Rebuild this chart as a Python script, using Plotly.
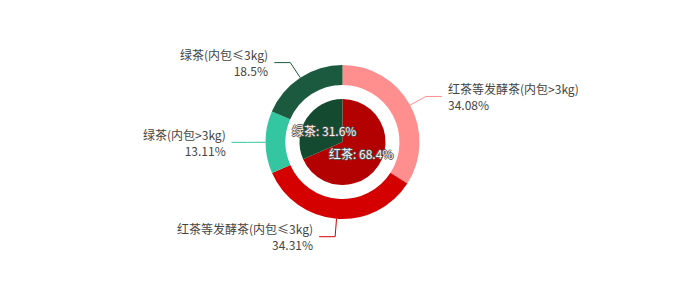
import math
import plotly.graph_objects as go

# ---- data ----
outer_labels = ["红茶等发酵茶(内包>3kg)", "红茶等发酵茶(内包≤3kg)", "绿茶(内包>3kg)", "绿茶(内包≤3kg)"]
outer_values = [34.08, 34.31, 13.11, 18.5]
outer_colors = ["#ff8f8f", "#d40000", "#33c6a0", "#1b5a3e"]

inner_labels = ["红茶", "绿茶"]
inner_values = [68.4, 31.6]
inner_colors = ["#b30000", "#144a30"]

W, H = 683, 285
CX, CY = 342.5, 142.0
R_OUT, R_HOLE, R_IN = 77.0, 57.0, 43.0
LEN1, LEN2, GAP = 18.0, 16.0, 5.0
TEXT_COLOR = "#444444"
FONT = "Noto Sans CJK SC, Noto Sans, sans-serif"


def px(x):
    return x / W


def py(y):
    return 1 - y / H


def mid_angles(values):
    tot = sum(values)
    out, acc = [], 0.0
    for v in values:
        out.append((acc + v / 2) / tot * 2 * math.pi)
        acc += v
    return out


fig = go.Figure()

fig.add_trace(go.Pie(
    labels=outer_labels, values=outer_values, sort=False, direction="clockwise",
    rotation=0, hole=R_HOLE / R_OUT, textinfo="none", hoverinfo="label+percent",
    marker=dict(colors=outer_colors, line=dict(width=0)),
    domain=dict(x=[px(CX - R_OUT), px(CX + R_OUT)], y=[py(CY + R_OUT), py(CY - R_OUT)]),
    showlegend=False,
))
fig.add_trace(go.Pie(
    labels=inner_labels, values=inner_values, sort=False, direction="clockwise",
    rotation=0, textinfo="none", hoverinfo="label+percent",
    marker=dict(colors=inner_colors, line=dict(width=0)),
    domain=dict(x=[px(CX - R_IN), px(CX + R_IN)], y=[py(CY + R_IN), py(CY - R_IN)]),
    showlegend=False,
))

shapes, annotations = [], []

# outer labels with leader lines
for lab, val, col, a in zip(outer_labels, outer_values, outer_colors, mid_angles(outer_values)):
    sx, sy = math.sin(a), -math.cos(a)
    x0, y0 = CX + R_OUT * sx, CY + R_OUT * sy
    x1, y1 = CX + (R_OUT + LEN1) * sx, CY + (R_OUT + LEN1) * sy
    side = 1 if sx >= 0 else -1
    x2, y2 = x1 + side * LEN2, y1
    path = f"M {px(x0)},{py(y0)} L {px(x1)},{py(y1)} L {px(x2)},{py(y2)}"
    shapes.append(dict(type="path", xref="paper", yref="paper", path=path,
                       line=dict(color=col, width=1)))
    annotations.append(dict(
        x=px(x2 + side * GAP), y=py(y2), xref="paper", yref="paper",
        text=f"{lab}<br>{val}%", showarrow=False, borderpad=0,
        xanchor="left" if side > 0 else "right", yanchor="middle",
        align="left" if side > 0 else "right",
        font=dict(size=12, color=TEXT_COLOR, family=FONT),
    ))

# inner labels
for lab, val, a in zip(inner_labels, inner_values, mid_angles(inner_values)):
    x, y = CX + 0.5 * R_IN * math.sin(a), CY - 0.5 * R_IN * math.cos(a)
    annotations.append(dict(
        x=px(x), y=py(y), xref="paper", yref="paper",
        text=f"{lab}: {val}%", showarrow=False, xanchor="center", yanchor="middle",
        font=dict(size=12, color="#f4f4f4", family=FONT,
                  shadow="1px 0 0 #555, -1px 0 0 #555, 0 1px 0 #555, 0 -1px 0 #555"),
    ))

fig.update_layout(
    width=W, height=H, margin=dict(l=0, r=0, t=0, b=0),
    paper_bgcolor="#ffffff", plot_bgcolor="#ffffff",
    shapes=shapes, annotations=annotations,
)

fig.write_html("out.html")
